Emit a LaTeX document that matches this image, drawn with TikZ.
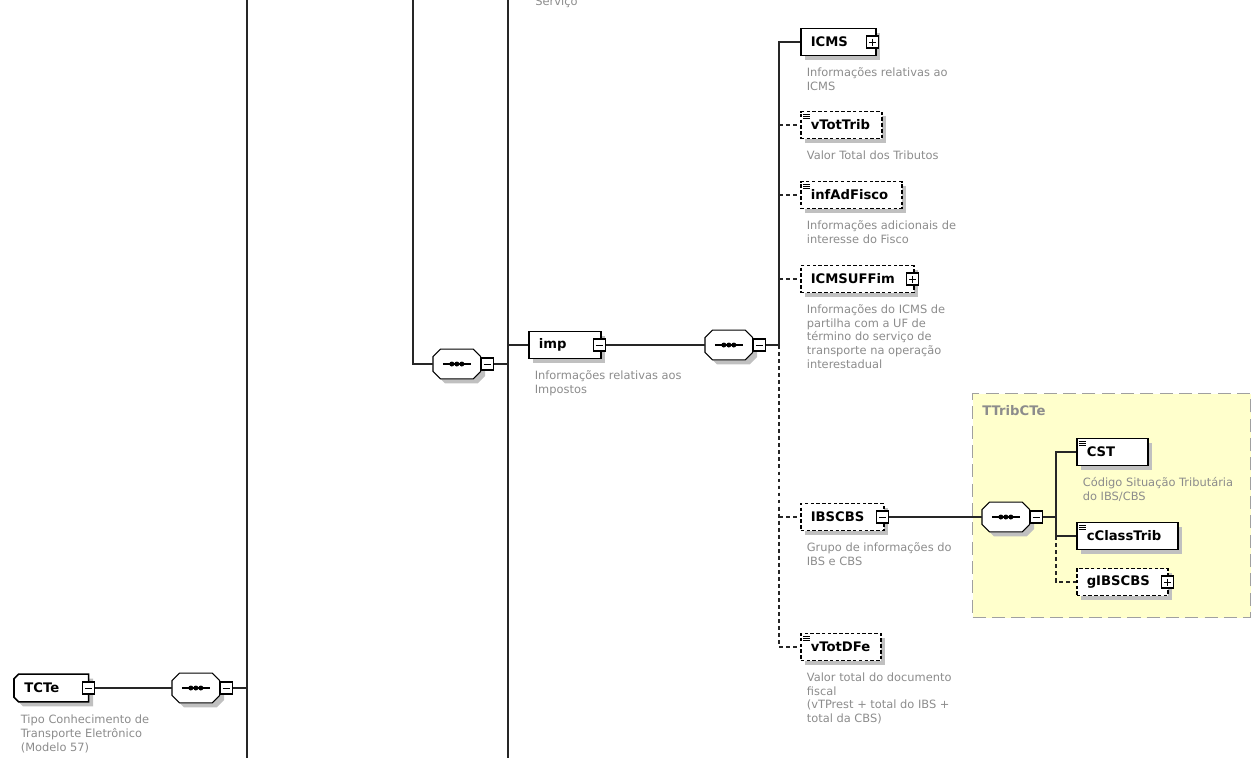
\documentclass[tikz,border=0pt]{standalone}
\usepackage{fontspec}
\setmainfont{DejaVu Sans}
\usepackage{xcolor}
\usepackage{tikz}
\usetikzlibrary{arrows.meta, positioning, shadows, backgrounds}
\definecolor{descgray}{RGB}{140,140,140}
\definecolor{shadowgray}{RGB}{192,192,192}
\definecolor{typeyellow}{RGB}{255,255,204}
\definecolor{typeframe}{RGB}{160,160,160}
\tikzstyle{conn} = [line width=0.6pt, black!85]
\tikzstyle{optconn} = [conn, dash pattern=on 2.2pt off 1.8pt]

\begin{document}
\begin{tikzpicture}[x=0.02cm, y=-0.02cm,
        boxshadow/.style={drop shadow={shadow xshift=0.09cm, shadow yshift=-0.09cm, fill=shadowgray, opacity=1}},
        namebox/.style={rectangle, minimum height=0.54cm, inner xsep=0.2cm, inner ysep=0pt, text width=#1, align=left, font=\bfseries\fontsize{7.5}{9}\selectfont},
        elem/.style={namebox=#1, draw, fill=white, line width=0.9pt, boxshadow},
        optelem/.style={elem=#1, dash pattern=on 2pt off 1.3pt},
        leaf/.style={path picture={
            \foreach \k in {1,2,3}
              \draw[solid, line width=0.35pt] ([shift={(0.05cm,-0.01cm-\k*0.045cm)}]path picture bounding box.north west) -- ++(0.13cm,0cm);}},
        tminus/.style={rectangle, draw, solid, fill=white, line width=0.6pt, minimum size=0.24cm, inner sep=0pt, path picture={
            \draw[line width=0.5pt] ([xshift=0.05cm]path picture bounding box.west) -- ([xshift=-0.05cm]path picture bounding box.east);}},
        tplus/.style={rectangle, draw, solid, fill=white, line width=0.6pt, minimum size=0.24cm, inner sep=0pt, path picture={
            \draw[line width=0.5pt] ([xshift=0.05cm]path picture bounding box.west) -- ([xshift=-0.05cm]path picture bounding box.east);
            \draw[line width=0.5pt] ([yshift=-0.05cm]path picture bounding box.north) -- ([yshift=0.05cm]path picture bounding box.south);}},
        seq/.style={rectangle, minimum width=0.94cm, minimum height=0.58cm, inner sep=0pt},
        seqline/.style={draw, fill=white, line width=0.6pt, boxshadow},
        rootline/.style={draw, fill=white, line width=0.9pt, boxshadow},
        desc/.style={inner sep=0pt, align=left, text=descgray, font=\fontsize{6.5}{7.8}\selectfont},
        typebox/.style={draw=typeframe, fill=typeyellow, line width=0.8pt, dash pattern=on 7.5pt off 3.5pt, inner sep=0pt},
        typelbl/.style={text=descgray, font=\bfseries\fontsize{7.5}{9}\selectfont, inner sep=0pt},
        node distance=0.22cm and 0.13cm
    ]

    \useasboundingbox (0,0) rectangle (1252,758);
    \clip (0,0) rectangle (1252,758);

    % Type frame
    \node[typebox, anchor=north west, minimum width=5.56cm, minimum height=4.48cm] (ttrib) at (972,393) {};
    \node[typelbl, anchor=north west] (ttriblbl) at ([shift={(0.2cm,-0.24cm)}]ttrib.north west) {TTribCTe};

    % Spines
    \coordinate (sp1) at (247,0);
    \coordinate (sp1b) at (247,758);
    \coordinate (sp2) at (413,0);
    \coordinate (sp3) at (508,0);
    \coordinate (sp3b) at (508,758);
    \coordinate (bus1) at (779,345);
    \coordinate (bus2) at (1056,517);

    % Root
    \node[namebox=1.08cm, anchor=west] (tcte) at (14,688) {TCTe};
    \begin{scope}[on background layer]
        \draw[rootline] ([xshift=0.09cm]tcte.north west) -- (tcte.north east) -- (tcte.south east) -- ([xshift=0.09cm]tcte.south west) -- ([yshift=0.09cm]tcte.south west) -- ([yshift=-0.09cm]tcte.north west) -- cycle;
    \end{scope}
    \node[tminus] (tcteT) at (tcte.east) {};
    \node[desc, below right=0.26cm and 0.13cm of tcte.south west] (tctedesc) {Tipo Conhecimento de\\Transporte Eletrônico\\(Modelo 57)};

    % Sequences
    \node[seq, anchor=west] (seq3) at (172,688) {};
    \node[seq, anchor=west] (seq1) at (433,364) {};
    \node[seq, anchor=west] (seq2) at (705,345) {};
    \node[seq, anchor=west] (seq4) at (982,517) {};
    \foreach \s in {seq1, seq2, seq3, seq4} {
        \draw[seqline] ([xshift=0.15cm]\s.north west) -- ([xshift=-0.15cm]\s.north east) -- ([yshift=-0.15cm]\s.north east) -- ([yshift=0.15cm]\s.south east) -- ([xshift=-0.15cm]\s.south east) -- ([xshift=0.15cm]\s.south west) -- ([yshift=0.15cm]\s.south west) -- ([yshift=-0.15cm]\s.north west) -- cycle;
        \draw[line width=0.6pt] ([xshift=-0.28cm]\s.center) -- ([xshift=0.28cm]\s.center);
        \foreach \k in {-1,0,1}
            \fill ([xshift=\k*0.1cm]\s.center) circle (0.05cm);
    }
    \node[tminus, anchor=west] (seq3T) at (seq3.east) {};
    \node[tminus, anchor=west] (seq1T) at (seq1.east) {};
    \node[tminus, anchor=west] (seq2T) at (seq2.east) {};
    \node[tminus, anchor=west] (seq4T) at (seq4.east) {};

    % imp
    \node[desc, anchor=base west] (servdesc) at (535,5) {Serviço};
    \node[elem=1.04cm, anchor=west] (imp) at (528,345) {imp};
    \node[tminus] (impT) at ([xshift=-0.05cm]imp.east) {};
    \node[desc, below right=of imp.south west] (impdesc) {Informações relativas aos\\Impostos};

    % Children of imp
    \node[elem=1.1cm, anchor=west] (icms) at (800,42) {ICMS};
    \node[tplus] (icmsT) at ([xshift=-0.08cm]icms.east) {};
    \node[desc, below right=of icms.south west] (icmsdesc) {Informações relativas ao\\ICMS};

    \node[optelem=1.22cm, leaf, anchor=west] (vtottrib) at (800,125) {vTotTrib};
    \node[desc, below right=of vtottrib.south west] (vtottribdesc) {Valor Total dos Tributos};

    \node[optelem=1.62cm, leaf, anchor=west] (infadfisco) at (800,195) {infAdFisco};
    \node[desc, below right=of infadfisco.south west] (infadfiscodesc) {Informações adicionais de\\interesse do Fisco};

    \node[optelem=1.86cm, anchor=west] (icmsuffim) at (800,279) {ICMSUFFim};
    \node[tplus] (icmsuffimT) at ([xshift=-0.04cm]icmsuffim.east) {};
    \node[desc, below right=of icmsuffim.south west] (icmsuffimdesc) {Informações do ICMS de\\partilha com a UF de\\término do serviço de\\transporte na operação\\interestadual};

    \node[optelem=1.26cm, anchor=west] (ibscbs) at (800,517) {IBSCBS};
    \node[tminus] (ibscbsT) at ([xshift=-0.04cm]ibscbs.east) {};
    \node[desc, below right=of ibscbs.south west] (ibscbsdesc) {Grupo de informações do\\IBS e CBS};

    \node[optelem=1.2cm, leaf, anchor=west] (vtotdfe) at (800,647) {vTotDFe};
    \node[desc, below right=of vtotdfe.south west] (vtotdfedesc) {Valor total do documento\\fiscal\\(vTPrest + total do IBS +\\total da CBS)};

    % Children of IBSCBS
    \node[elem=1.02cm, leaf, anchor=west] (cst) at (1076,452) {CST};
    \node[desc, below right=of cst.south west] (cstdesc) {Código Situação Tributária\\do IBS/CBS};
    \node[elem=1.62cm, leaf, anchor=west] (cclasstrib) at (1076,536) {cClassTrib};
    \node[optelem=1.42cm, anchor=west] (gibscbs) at (1076,582) {gIBSCBS};
    \node[tplus] (gibscbsT) at ([xshift=-0.02cm]gibscbs.east) {};

    % Connectors
    \draw[conn] (sp1) -- (sp1b);
    \draw[conn] (sp3) -- (sp3b);
    \draw[conn] (tcteT.east) -- (seq3.west);
    \draw[conn] (seq3T.east) -- (seq3T.east -| sp1);
    \draw[conn] (sp2) |- (seq1.west);
    \draw[conn] (seq1T.east) -- (seq1T.east -| sp3);
    \draw[conn] (imp.west -| sp3) -- (imp.west);
    \draw[conn] (impT.east) -- (seq2.west);
    \draw[conn] (seq2T.east) -- (bus1);
    \draw[conn] (bus1) |- (icms.west);
    \draw[optconn] (bus1) |- (vtotdfe.west);
    \foreach \n in {vtottrib, infadfisco, icmsuffim, ibscbs}
        \draw[optconn] (\n.west -| bus1) -- (\n.west);
    \draw[conn] (ibscbsT.east) -- (seq4.west);
    \draw[conn] (seq4T.east) -- (bus2);
    \draw[conn] (bus2) |- (cst.west);
    \draw[conn] (bus2) |- (cclasstrib.west);
    \draw[optconn] (cclasstrib.west -| bus2) |- (gibscbs.west);

\end{tikzpicture}
\end{document}
